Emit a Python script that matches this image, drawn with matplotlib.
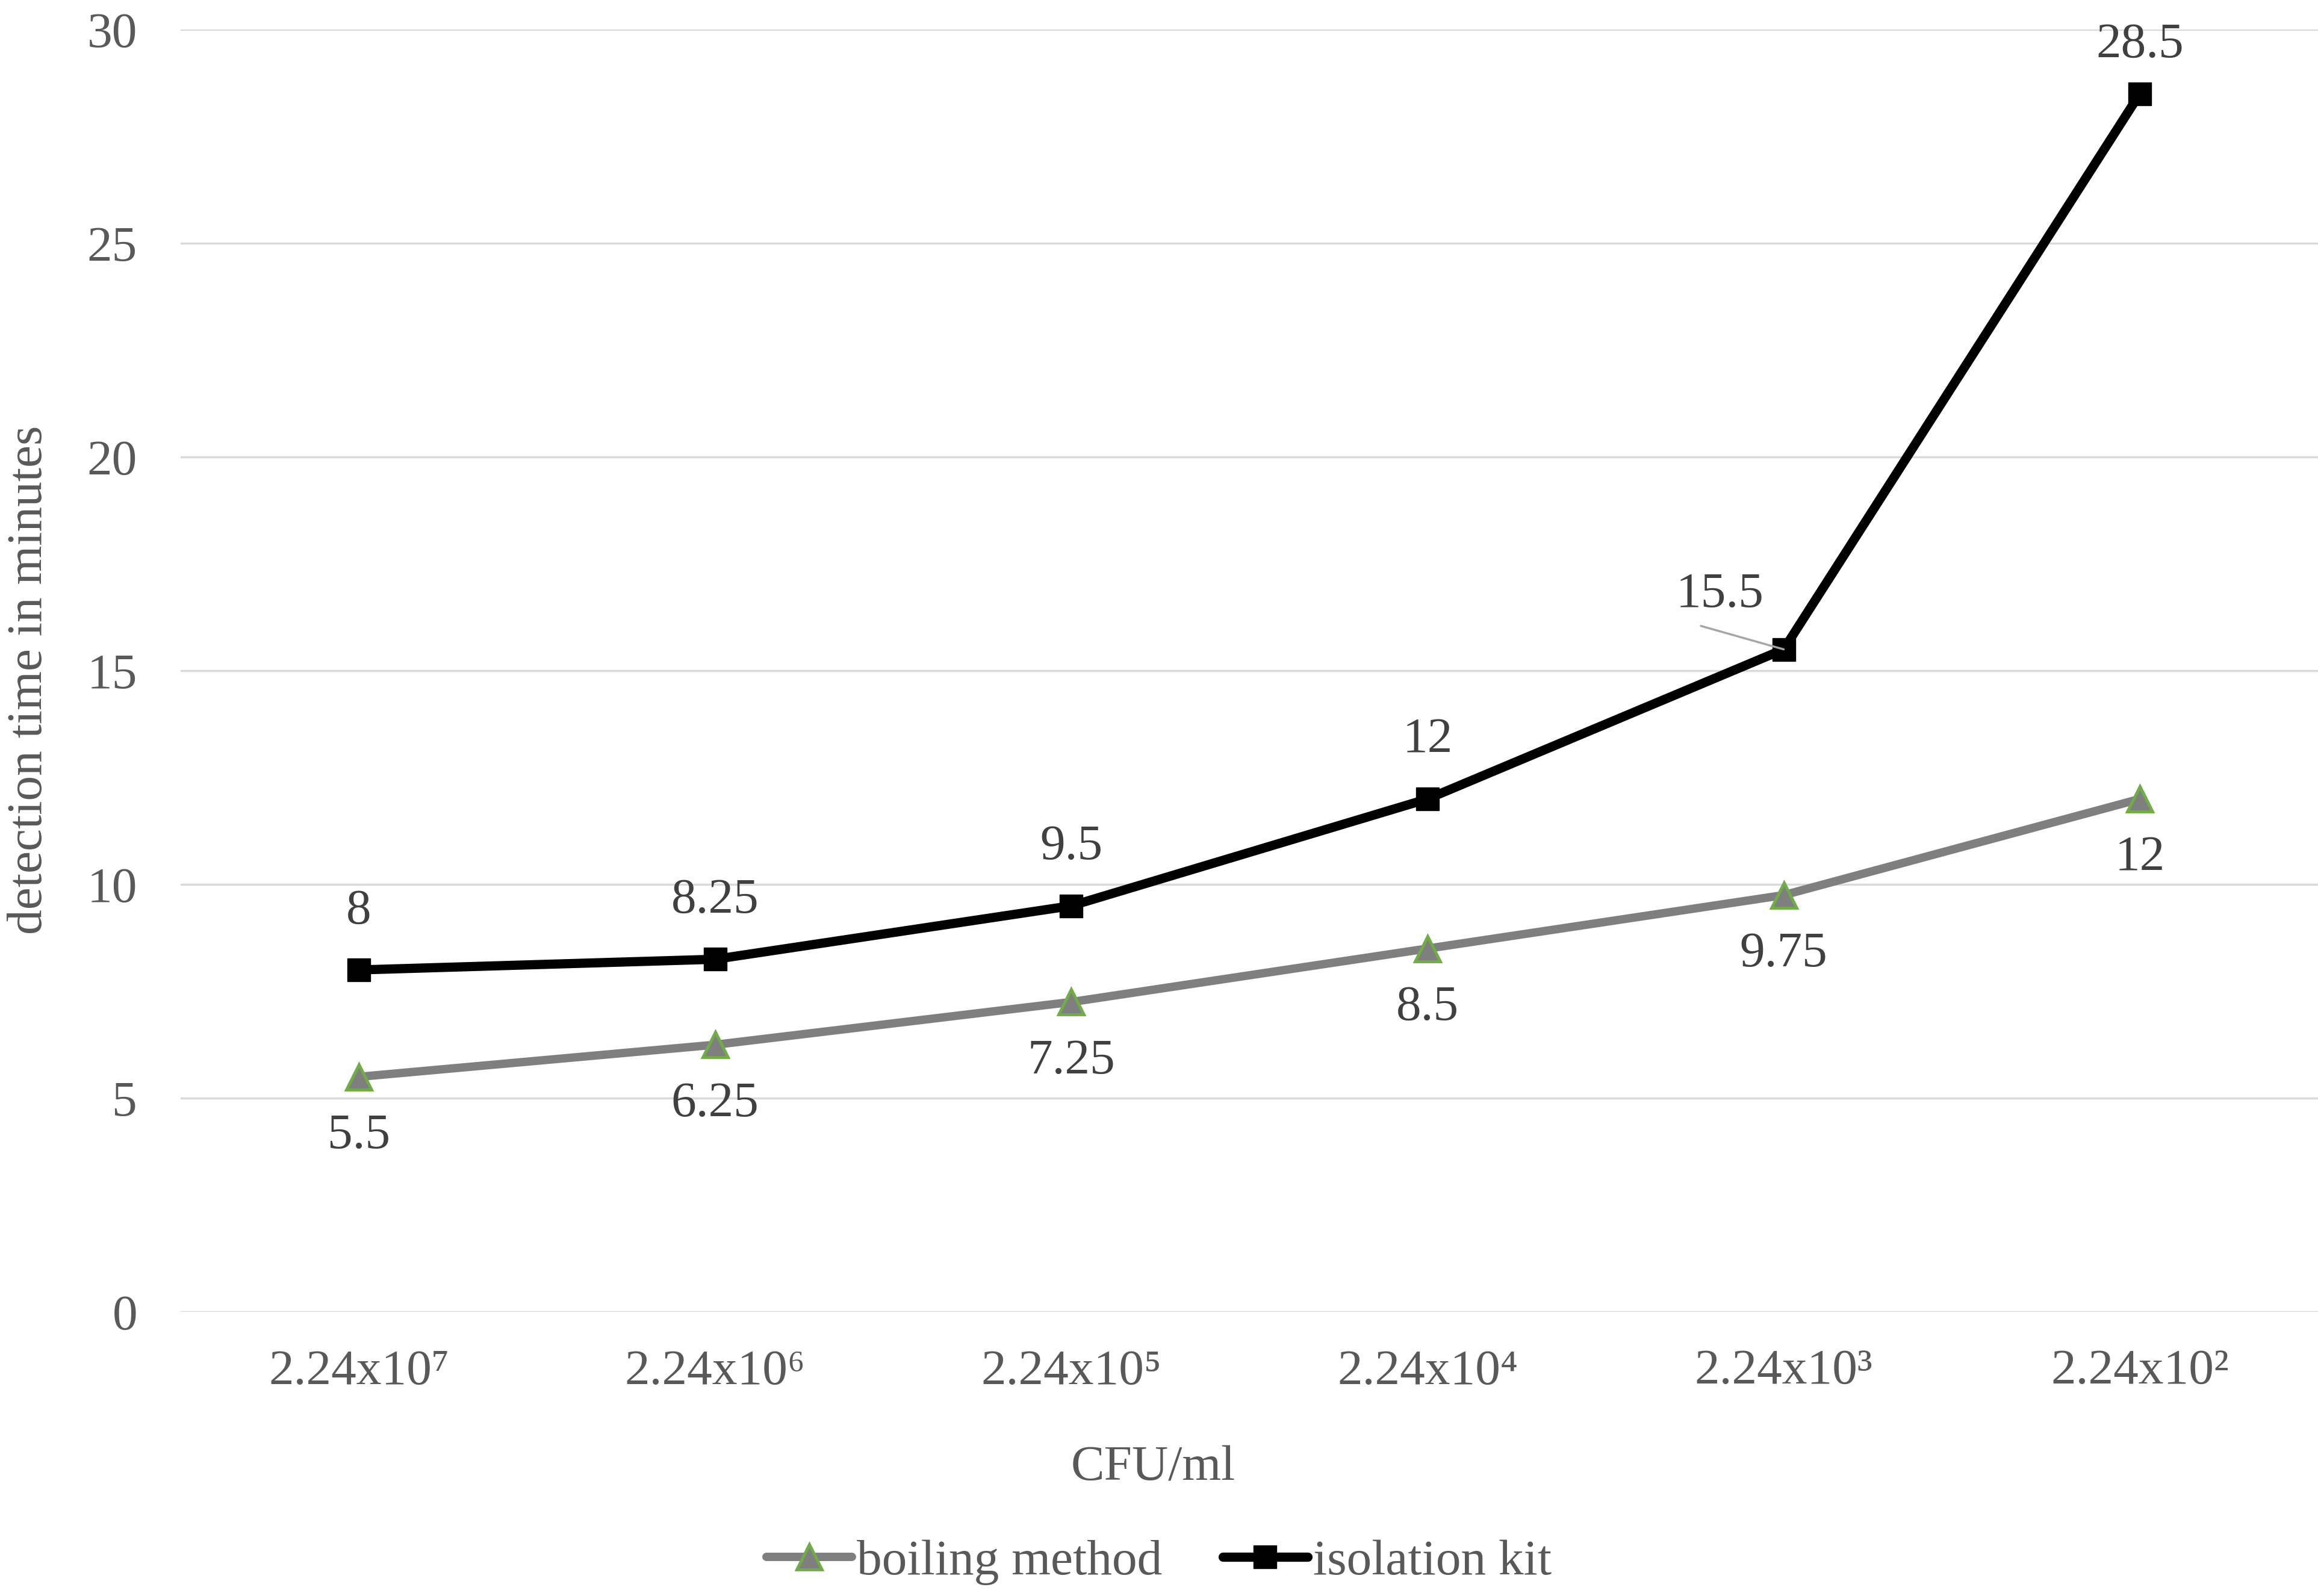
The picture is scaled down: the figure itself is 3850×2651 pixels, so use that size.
import matplotlib.pyplot as plt

categories = ["2.24x10⁷", "2.24x10⁶", "2.24x10⁵", "2.24x10⁴", "2.24x10³", "2.24x10²"]
boiling = [5.5, 6.25, 7.25, 8.5, 9.75, 12]
isolation = [8, 8.25, 9.5, 12, 15.5, 28.5]
boiling_labels = ["5.5", "6.25", "7.25", "8.5", "9.75", "12"]
isolation_labels = ["8", "8.25", "9.5", "12", "15.5", "28.5"]

plt.rcParams['font.family'] = ['Liberation Serif', 'DejaVu Serif']
fs = 60

fig = plt.figure(figsize=(38.5, 26.51), dpi=100)
ax = fig.add_axes([0.078, 0.178, 0.922, 0.8035])
x = list(range(len(categories)))

ax.plot(x, boiling, color="#7f7f7f", lw=10, marker="^", markersize=30,
        markerfacecolor="#7f7f7f", markeredgecolor="#70ad47", markeredgewidth=3.5,
        label="boiling method", solid_capstyle="round", zorder=3)
ax.plot(x, isolation, color="black", lw=11, marker="s", markersize=27,
        label="isolation kit", solid_capstyle="round", zorder=4)

# data labels
for i, v in enumerate(boiling):
    ax.annotate(boiling_labels[i], (i, v), xytext=(0, -71), textcoords="offset points",
                ha="center", va="center", fontsize=fs, color="#404040")
for i, v in enumerate(isolation):
    if i == 4:
        ax.annotate(isolation_labels[i], (i, v), xytext=(-76, 65), textcoords="offset points",
                    ha="center", va="center", fontsize=fs, color="#404040")
        ax.annotate("", xy=(i, v), xytext=(-99, 28), textcoords="offset points",
                    arrowprops=dict(arrowstyle="-", color="#a6a6a6", lw=2.5,
                                    shrinkA=0, shrinkB=0), zorder=5)
    else:
        dy = 58 if i == 5 else 70
        ax.annotate(isolation_labels[i], (i, v), xytext=(0, dy), textcoords="offset points",
                    ha="center", va="center", fontsize=fs, color="#404040")

ax.set_xlim(-0.5, 5.5)
ax.set_ylim(0, 30)
ax.set_yticks([0, 5, 10, 15, 20, 25, 30])
ax.set_xticks(x)
ax.set_xticklabels(categories)
ax.tick_params(axis="both", length=0, labelsize=fs, labelcolor="#595959")
ax.tick_params(axis="x", pad=45)
ax.tick_params(axis="y", pad=52)
ax.grid(axis="y", color="#d9d9d9", lw=2.5)
ax.set_axisbelow(True)
for s in ax.spines.values():
    s.set_visible(False)

ax.set_xlabel("CFU/ml", fontsize=fs, color="#595959", va="center")
ax.xaxis.set_label_coords(0.455, -0.122)
ax.set_ylabel("detection time in minutes", fontsize=fs, color="#595959", va="center")
ax.yaxis.set_label_coords(-0.0707, 0.493)

fig.legend(loc="center", bbox_to_anchor=(0.5, 0.021), ncol=2, frameon=False,
           fontsize=fs, labelcolor="#595959", handlelength=1.7, handletextpad=0.1,
           columnspacing=1.2)

fig.savefig("out.png", dpi=100)
